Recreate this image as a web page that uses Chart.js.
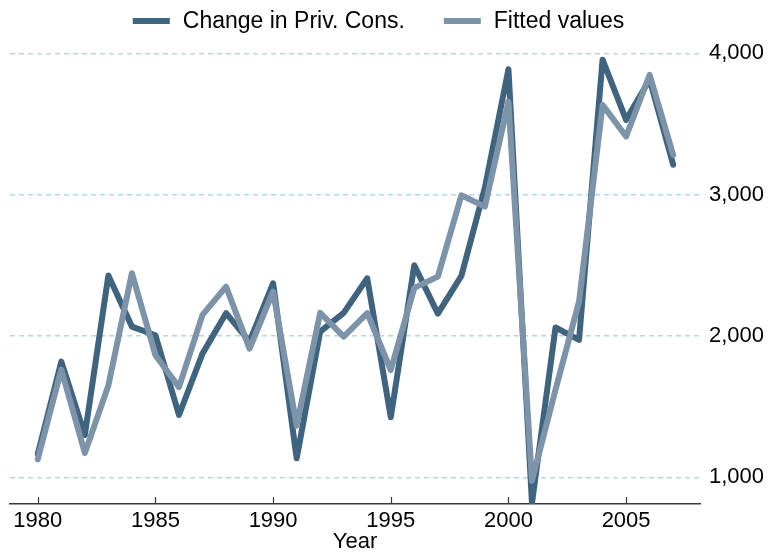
<!DOCTYPE html>
<html>
<head>
<meta charset="utf-8">
<script src="https://cdn.jsdelivr.net/npm/chart.js@4"></script>
<style>
  html, body { margin: 0; padding: 0; background: #ffffff; }
  #wrap { width: 770px; height: 555px; }
</style>
</head>
<body>
<div id="wrap"><canvas id="c" width="770" height="555"></canvas></div>
<script>
const years = [1980,1981,1982,1983,1984,1985,1986,1987,1988,1989,1990,1991,1992,1993,1994,1995,1996,1997,1998,1999,2000,2001,2002,2003,2004,2005,2006,2007];
const changePrivCons = [1165,1818,1299,2428,2066,2005,1441,1875,2161,1960,2373,1134,2030,2163,2408,1425,2500,2158,2425,3050,3887,816,2060,1972,3955,3529,3815,3211];
const fittedValues = [1127,1762,1172,1650,2444,1864,1638,2149,2349,1910,2314,1365,2163,1995,2161,1759,2340,2420,2995,2915,3658,975,1620,2243,3635,3411,3848,3281];
const xTickValues = [1980,1985,1990,1995,2000,2005];
const yTickValues = [1000,2000,3000,4000];
const seriesLabels = ['Change in Priv. Cons.', 'Fitted values'];

const FONT = '"Liberation Sans", Arial, sans-serif';
const axisColor = '#3a3a3a';

const legendPlugin = {
  id: 'customLegend',
  afterDraw(chart) {
    const ctx = chart.ctx;
    ctx.save();
    ctx.font = '23px ' + FONT;
    ctx.textBaseline = 'middle';
    const sw = 37, gap = 13, itemGap = 39, cy = 21;
    const ds = chart.data.datasets.slice().sort((a, b) => a.legendIndex - b.legendIndex);
    const widths = ds.map(d => sw + gap + ctx.measureText(d.label).width);
    const total = widths.reduce((a, b) => a + b, 0) + itemGap * (ds.length - 1);
    let x = 378.5 - total / 2;
    ds.forEach((d, i) => {
      ctx.fillStyle = d.borderColor;
      ctx.fillRect(x, cy - 3, sw, 6);
      ctx.fillStyle = '#000000';
      ctx.fillText(d.label, x + sw + gap, cy + 1);
      x += widths[i] + itemGap;
    });
    ctx.restore();
  }
};

const innerTicksPlugin = {
  id: 'innerTicks',
  beforeDatasetsDraw(chart) {
    const s = chart.scales.x;
    const ctx = chart.ctx;
    const bottom = chart.chartArea.bottom;
    ctx.save();
    ctx.strokeStyle = axisColor;
    ctx.lineWidth = 1.2;
    s.ticks.forEach(t => {
      const px = Math.round(s.getPixelForValue(t.value)) + 0.5;
      ctx.beginPath();
      ctx.moveTo(px, bottom);
      ctx.lineTo(px, bottom - 7);
      ctx.stroke();
    });
    ctx.restore();
  }
};

const toPts = arr => years.map((y, i) => ({x: y, y: arr[i]}));

new Chart(document.getElementById('c'), {
  type: 'line',
  data: {
    datasets: [
      {
        label: seriesLabels[0],
        data: toPts(changePrivCons),
        borderColor: '#3e6480',
        backgroundColor: '#3e6480',
        borderWidth: 6,
        pointRadius: 0,
        borderCapStyle: 'round',
        borderJoinStyle: 'round',
        tension: 0,
        order: 1,
        legendIndex: 0
      },
      {
        label: seriesLabels[1],
        data: toPts(fittedValues),
        borderColor: '#7d93aa',
        backgroundColor: '#7d93aa',
        borderWidth: 6,
        pointRadius: 0,
        borderCapStyle: 'round',
        borderJoinStyle: 'round',
        tension: 0,
        order: 0,
        legendIndex: 1
      }
    ]
  },
  options: {
    responsive: false,
    animation: false,
    devicePixelRatio: 1,
    layout: { padding: { top: 40, left: 10, right: 0, bottom: 0 } },
    plugins: {
      legend: { display: false },
      tooltip: { enabled: false }
    },
    scales: {
      x: {
        type: 'linear',
        min: 1978.82,
        max: 2008.14,
        afterBuildTicks: s => { s.ticks = xTickValues.map(v => ({value: v})); },
        afterFit: s => { s.height = 51; },
        grid: { display: false, drawTicks: false },
        border: { display: true, color: axisColor, width: 1.4 },
        ticks: {
          color: '#000000',
          font: { family: FONT, size: 22 },
          padding: 4,
          maxRotation: 0,
          callback: v => String(v)
        },
        title: {
          display: true,
          text: 'Year',
          color: '#000000',
          font: { family: FONT, size: 22 },
          padding: { top: 0, bottom: 0 }
        }
      },
      y: {
        type: 'linear',
        position: 'right',
        min: 811,
        max: 4094,
        afterBuildTicks: s => { s.ticks = yTickValues.map(v => ({value: v})); },
        afterFit: s => { s.width = 70; },
        grid: {
          display: true,
          drawTicks: false,
          color: '#acdbe6',
          lineWidth: 1.4
        },
        border: { display: false, dash: [5, 4] },
        ticks: {
          color: '#000000',
          font: { family: FONT, size: 22 },
          padding: 9,
          callback: v => v.toLocaleString('en-US')
        }
      }
    }
  },
  plugins: [innerTicksPlugin, legendPlugin]
});
</script>
</body>
</html>
